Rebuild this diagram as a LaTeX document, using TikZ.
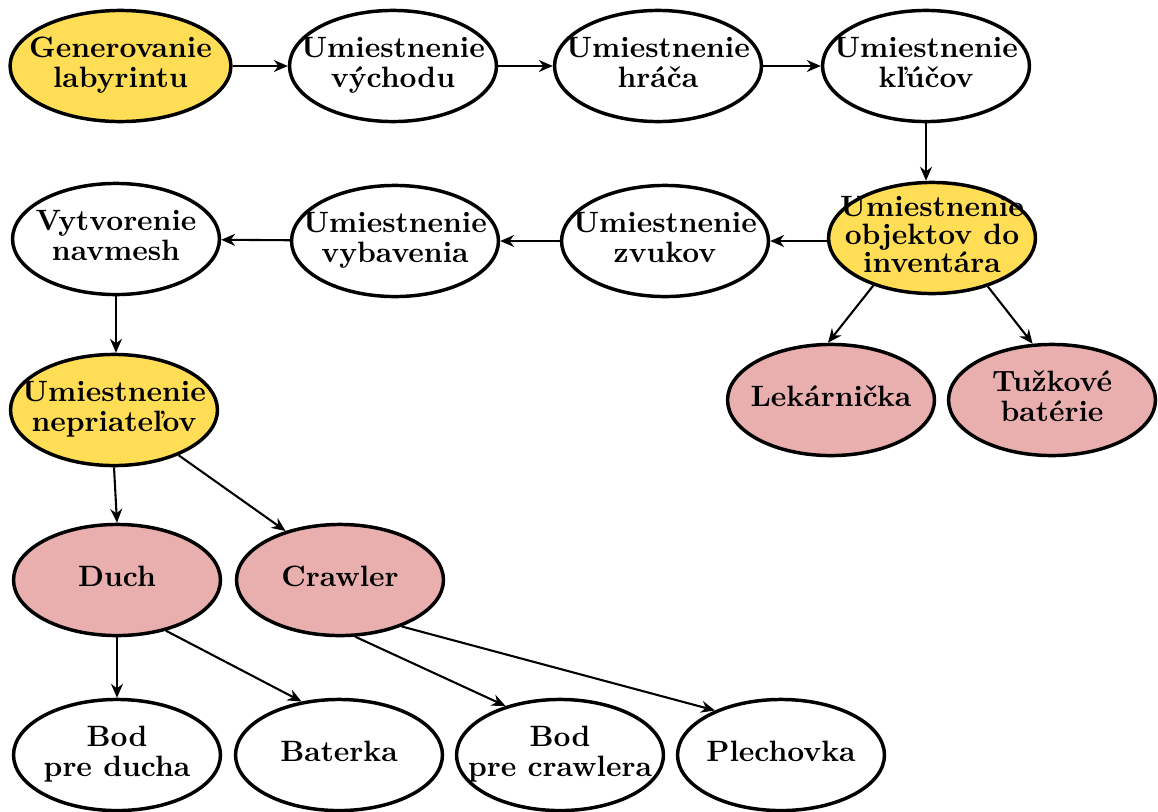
\documentclass[tikz,border=0pt]{standalone}
\usetikzlibrary{shapes.geometric,arrows.meta}
\definecolor{ylw}{RGB}{255,221,85}
\definecolor{pnk}{RGB}{233,175,175}
\newcommand\lbl[1]{\makebox[0pt]{\begin{tabular}{@{}c@{}}#1\end{tabular}}}
\begin{document}
\begin{tikzpicture}[x=0.36pt,y=-0.36pt,
  el/.style={ellipse,draw=black,line width=1.25pt,inner sep=0pt,
    minimum width=74.5pt,minimum height=40pt,
    font=\bfseries\fontsize{10.6}{10.8}\selectfont},
  yel/.style={el,fill=ylw},
  pink/.style={el,fill=pnk},
  wht/.style={el,fill=white},
  arr/.style={-{Stealth[length=5pt,width=4.3pt]},line width=0.75pt}]
\useasboundingbox (0,0) rectangle (1158,811);
\node[yel,minimum width=79.5pt] (gen) at (120.5,66) {\lbl{Generovanie\\labyrintu}};
\node[wht] (vych) at (393,66) {\lbl{Umiestnenie\\východu}};
\node[wht] (hrac) at (658,66) {\lbl{Umiestnenie\\hráča}};
\node[wht] (kluc) at (926,66) {\lbl{Umiestnenie\\kľúčov}};
\node[yel,inner ysep=-3pt,font=\bfseries\fontsize{10.6}{9.2}\selectfont] (obj) at (932,238) {\lbl{Umiestnenie\\objektov do\\inventára}};
\node[wht] (zvuk) at (665,241) {\lbl{Umiestnenie\\zvukov}};
\node[wht] (vyb) at (395,241) {\lbl{Umiestnenie\\vybavenia}};
\node[wht] (nav) at (116,239) {\lbl{Vytvorenie\\navmesh}};
\node[yel] (nep) at (114,410) {\lbl{Umiestnenie\\nepriateľov}};
\node[pink] (lek) at (831,400) {\lbl{Lekárnička}};
\node[pink] (tuz) at (1052,400) {\lbl{Tužkové\\batérie}};
\node[pink] (duch) at (117,580) {\lbl{Duch}};
\node[pink] (crw) at (340,580) {\lbl{Crawler}};
\node[wht] (bodd) at (117,755) {\lbl{Bod\\pre ducha}};
\node[wht] (bat) at (339,755) {\lbl{Baterka}};
\node[wht] (bodc) at (560,755) {\lbl{Bod\\pre crawlera}};
\node[wht] (ple) at (781,755) {\lbl{Plechovka}};

\draw[arr] (gen) -- (vych);
\draw[arr] (vych) -- (hrac);
\draw[arr] (hrac) -- (kluc);
\draw[arr] (kluc.south) -- (kluc.south |- obj.north);
\draw[arr] (obj.west |- zvuk.east) -- (zvuk.east);
\draw[arr] (zvuk) -- (vyb);
\draw[arr] (vyb) -- (nav);
\draw[arr] (nav.south) -- (nav.south |- nep.north);
\draw[arr] (obj.219.6) -- (lek.93);
\draw[arr] (obj.-41.7) -- (tuz.109.6);
\draw[arr] (nep.south) -- (duch.north);
\draw[arr] (nep.-35) -- (crw.138);
\draw[arr] (duch.south) -- (bodd.north);
\draw[arr] (duch.-46) -- (bat.125);
\draw[arr] (crw.-75) -- (bodc.138);
\draw[arr] (crw.-37) -- (ple.146.5);
\end{tikzpicture}
\end{document}
